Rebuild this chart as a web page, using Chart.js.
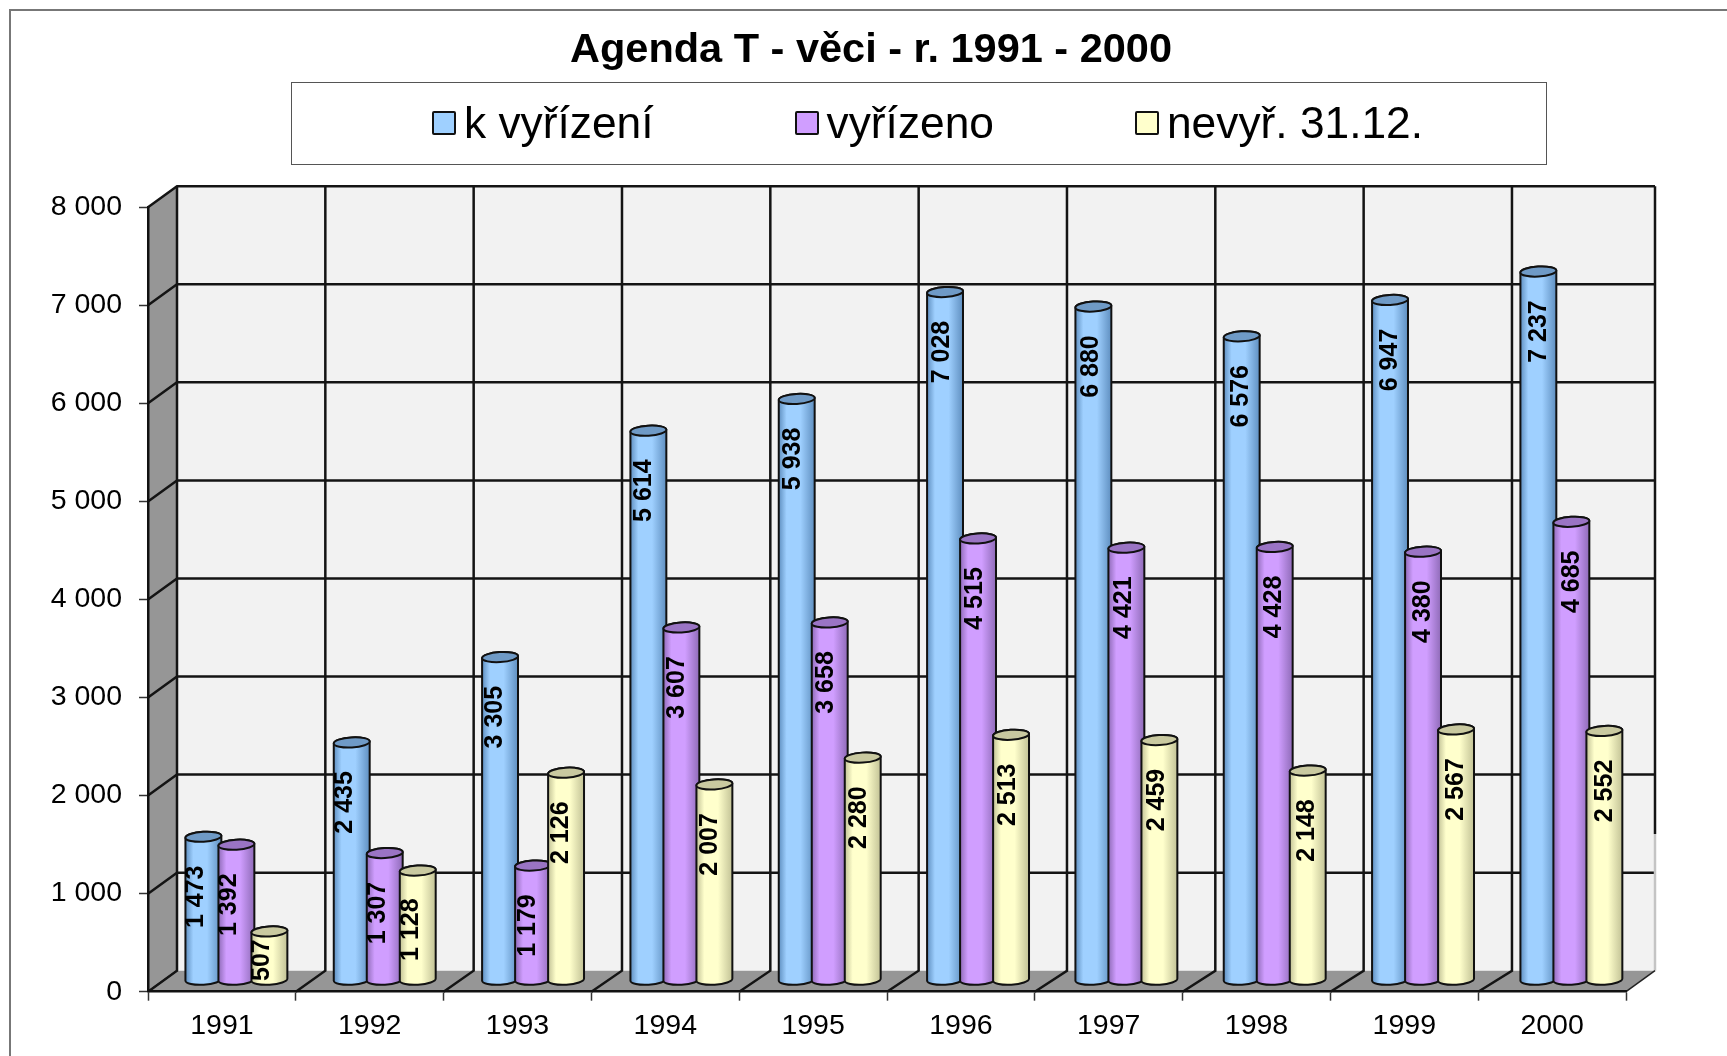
<!DOCTYPE html>
<html lang="cs">
<head>
<meta charset="utf-8">
<title>Agenda T</title>
<script src="https://cdn.jsdelivr.net/npm/chart.js@4"></script>
<style>
  html, body { margin: 0; padding: 0; background: #fff; }
  #wrap { position: relative; width: 1727px; height: 1056px; overflow: hidden; font-family: "Liberation Sans", Arial, sans-serif; }
  #frameTop { position: absolute; left: 9px; top: 9px; right: 0; height: 2px; background: #777; }
  #frameLeft { position: absolute; left: 9px; top: 9px; bottom: 0; width: 2px; background: #777; }
  #legend { position: absolute; left: 291px; top: 81.5px; width: 1256px; height: 83px; border: 1.5px solid #555; display: flex; align-items: center; padding-left: 140px; box-sizing: border-box; color: #000; font-size: 44.3px; }
  #legend .item { display: flex; align-items: center; margin-right: 141px; white-space: nowrap; }
  #legend .swatch { width: 20px; height: 20px; border: 2px solid #111; border-radius: 2px; margin-right: 8px; }
  canvas { position: absolute; left: 0; top: 0; }
</style>
</head>
<body>
<div id="wrap">
  <canvas id="mainChart" width="1727" height="1056"></canvas>
  <div id="frameTop"></div>
  <div id="frameLeft"></div>
  <div id="legend"></div>
</div>
<script>
const years = ["1991", "1992", "1993", "1994", "1995", "1996", "1997", "1998", "1999", "2000"];
const kVyrizeni = [1473, 2435, 3305, 5614, 5938, 7028, 6880, 6576, 6947, 7237];
const vyrizeno = [1392, 1307, 1179, 3607, 3658, 4515, 4421, 4428, 4380, 4685];
const nevyrizeno = [507, 1128, 2126, 2007, 2280, 2513, 2459, 2148, 2567, 2552];

const FONT = '"Liberation Sans", Arial, sans-serif';

// fake 3D depth of the plot box
const DEPTH_X = 29;
const DEPTH_Y = 21;
// back wall slots are a touch wider than the front axis slots
const SLOT_DRIFT = 0.53;

function spaced(v) {
  return String(v).replace(/\B(?=(\d{3})+$)/g, " ");
}

// Back wall, side wall and floor, drawn from the scales
const boxPlugin = {
  id: "box3d",
  beforeDraw(chart) {
    const { ctx, chartArea: a, scales } = chart;
    const yTicks = scales.y.ticks.map((t) => scales.y.getPixelForValue(t.value));
    const slot = (a.right - a.left) / years.length;

    ctx.save();
    ctx.fillStyle = "#f2f2f2";
    ctx.fillRect(a.left + DEPTH_X, a.top - DEPTH_Y, a.right - a.left, a.bottom - a.top);

    ctx.fillStyle = "#969696";
    ctx.beginPath();
    ctx.moveTo(a.left, a.top);
    ctx.lineTo(a.left + DEPTH_X, a.top - DEPTH_Y);
    ctx.lineTo(a.left + DEPTH_X, a.bottom - DEPTH_Y);
    ctx.lineTo(a.left, a.bottom);
    ctx.closePath();
    ctx.fill();

    ctx.beginPath();
    ctx.moveTo(a.left, a.bottom);
    ctx.lineTo(a.right, a.bottom);
    ctx.lineTo(a.right + DEPTH_X, a.bottom - DEPTH_Y);
    ctx.lineTo(a.left + DEPTH_X, a.bottom - DEPTH_Y);
    ctx.closePath();
    ctx.fill();

    ctx.strokeStyle = "#141414";

    // horizontal grid, except the floor line at zero
    yTicks.forEach((y) => {
      ctx.beginPath();
      ctx.moveTo(a.left, y);
      ctx.lineTo(a.left + DEPTH_X, y - DEPTH_Y);
      if (y < a.bottom - 1) ctx.lineTo(a.right + DEPTH_X, y - DEPTH_Y);
      ctx.lineWidth = y < a.bottom - 1 ? 2.5 : 1.5;
      ctx.stroke();
    });

    // vertical grid on the back wall and the floor diagonals
    ctx.lineWidth = 2.5;
    for (let i = 0; i <= years.length - 1; i++) {
      const x = a.left + slot * i;
      const backX = x + DEPTH_X + i * SLOT_DRIFT;
      ctx.beginPath();
      ctx.moveTo(backX, a.top - DEPTH_Y);
      ctx.lineTo(backX, a.bottom - DEPTH_Y);
      ctx.lineTo(x, a.bottom);
      ctx.stroke();
    }

    // right edge fades to grey near the floor, as in the source picture
    ctx.beginPath();
    ctx.moveTo(a.right + DEPTH_X, a.top - DEPTH_Y);
    ctx.lineTo(a.right + DEPTH_X, 834);
    ctx.stroke();
    ctx.strokeStyle = "#c4c4c4";
    ctx.beginPath();
    ctx.moveTo(a.right + DEPTH_X, 834);
    ctx.lineTo(a.right + DEPTH_X, a.bottom - DEPTH_Y);
    ctx.stroke();

    ctx.strokeStyle = "#222";
    ctx.lineWidth = 1.5;
    ctx.beginPath();
    ctx.moveTo(a.right, a.bottom);
    ctx.lineTo(a.right + DEPTH_X, a.bottom - DEPTH_Y);
    ctx.stroke();
    ctx.restore();
  },
  afterLayout(chart) {
    // title is centred over the whole picture, not the padded box
    chart.titleBlock.left += 58;
    chart.titleBlock.right += 58;
  }
};

function drawCylinder(ctx, bar, i, style) {
  const cx = bar.x + DEPTH_X / 2 + i * SLOT_DRIFT;
  const rx = bar.width / 2;
  const ry = 5;
  const tilt = -0.06;
  const top = bar.y - DEPTH_Y / 2;
  const base = bar.base - DEPTH_Y / 2 - 1;

  const grad = ctx.createLinearGradient(cx - rx, 0, cx + rx, 0);
  grad.addColorStop(0, style.edge);
  grad.addColorStop(0.22, style.fill);
  grad.addColorStop(0.6, style.fill);
  grad.addColorStop(1, style.edge);

  ctx.beginPath();
  ctx.ellipse(cx, base, rx, ry, tilt, 0, Math.PI);
  ctx.ellipse(cx, top, rx, ry, tilt, Math.PI, Math.PI * 2);
  ctx.closePath();
  ctx.fillStyle = grad;
  ctx.fill();
  ctx.strokeStyle = "#111";
  ctx.lineWidth = 2;
  ctx.stroke();

  ctx.beginPath();
  ctx.ellipse(cx, top, rx, ry, tilt, 0, Math.PI * 2);
  ctx.fillStyle = style.cap;
  ctx.fill();
  ctx.stroke();
}

// Bars are laid out by Chart.js, this only paints them as cylinders
const cylinderPlugin = {
  id: "cylinders",
  afterDatasetsDraw(chart) {
    const { ctx } = chart;
    ctx.save();
    chart.data.datasets.forEach((ds, d) => {
      chart.getDatasetMeta(d).data.forEach((bar, i) => drawCylinder(ctx, bar, i, ds.cylinder));
    });

    // value labels, rotated, hanging from the top of each bar
    ctx.fillStyle = "#000";
    ctx.font = "bold 25px " + FONT;
    ctx.textAlign = "center";
    ctx.textBaseline = "middle";
    chart.data.datasets.forEach((ds, d) => {
      chart.getDatasetMeta(d).data.forEach((bar, i) => {
        const cx = bar.x + DEPTH_X / 2 + i * SLOT_DRIFT - 7 + i * 0.85;
        const top = bar.y - DEPTH_Y / 2;
        const mid = (top + bar.base - DEPTH_Y / 2) / 2;
        const y = Math.min(top + 60, mid + 4);
        ctx.save();
        ctx.translate(cx, y);
        ctx.rotate(-Math.PI / 2);
        ctx.fillText(spaced(ds.data[i]), 0, 0);
        ctx.restore();
      });
    });
    ctx.restore();
  }
};

function makeDataset(label, data, fill, edge, cap) {
  return {
    label,
    data,
    backgroundColor: "rgba(0,0,0,0)",
    borderWidth: 0,
    categoryPercentage: 0.67,
    barPercentage: 1.09,
    cylinder: { fill, edge, cap }
  };
}

const chart = new Chart(document.getElementById("mainChart"), {
  type: "bar",
  data: {
    labels: years,
    datasets: [
      makeDataset("k vyřízení", kVyrizeni, "#9fd0ff", "#5f8fc0", "#6f9ac6"),
      makeDataset("vyřízeno", vyrizeno, "#d09eff", "#8f6bb8", "#9a74c4"),
      makeDataset("nevyř. 31.12.", nevyrizeno, "#ffffcc", "#c2c296", "#c9c9a0")
    ]
  },
  options: {
    responsive: false,
    animation: false,
    layout: { autoPadding: false, padding: { left: 0, right: 101, top: 0, bottom: 0 } },
    plugins: {
      legend: { display: false },
      tooltip: { enabled: false },
      title: {
        display: true,
        text: "Agenda T - věci - r. 1991 - 2000",
        color: "#000",
        font: { family: FONT, size: 41.5, weight: "bold", lineHeight: 1.2 },
        padding: { top: 26, bottom: 131.4 }
      }
    },
    scales: {
      x: {
        afterFit(scale) { scale.height = 64.3; },
        grid: { drawOnChartArea: false, tickLength: 9, tickColor: "#333", tickWidth: 1.5 },
        border: { display: true, color: "#111", width: 2.5 },
        ticks: { color: "#000", padding: 8, maxRotation: 0, font: { family: FONT, size: 28.5 } }
      },
      y: {
        min: 0,
        max: 8000,
        afterFit(scale) { scale.width = 148; },
        grid: { drawOnChartArea: false, tickLength: 9, tickColor: "#333", tickWidth: 1.5 },
        border: { display: true, color: "#111", width: 2.5 },
        ticks: {
          stepSize: 1000,
          color: "#000",
          padding: 17,
          font: { family: FONT, size: 28.5 },
          callback: (v) => spaced(v)
        }
      }
    }
  },
  plugins: [boxPlugin, cylinderPlugin]
});

// Legend is plain html, chart legend can not do the boxed layout
const legendEl = document.getElementById("legend");
chart.data.datasets.forEach((ds) => {
  const item = document.createElement("div");
  item.className = "item";
  const swatch = document.createElement("span");
  swatch.className = "swatch";
  swatch.style.background = ds.cylinder.fill;
  const text = document.createElement("span");
  text.textContent = ds.label;
  item.appendChild(swatch);
  item.appendChild(text);
  legendEl.appendChild(item);
});
</script>
</body>
</html>
